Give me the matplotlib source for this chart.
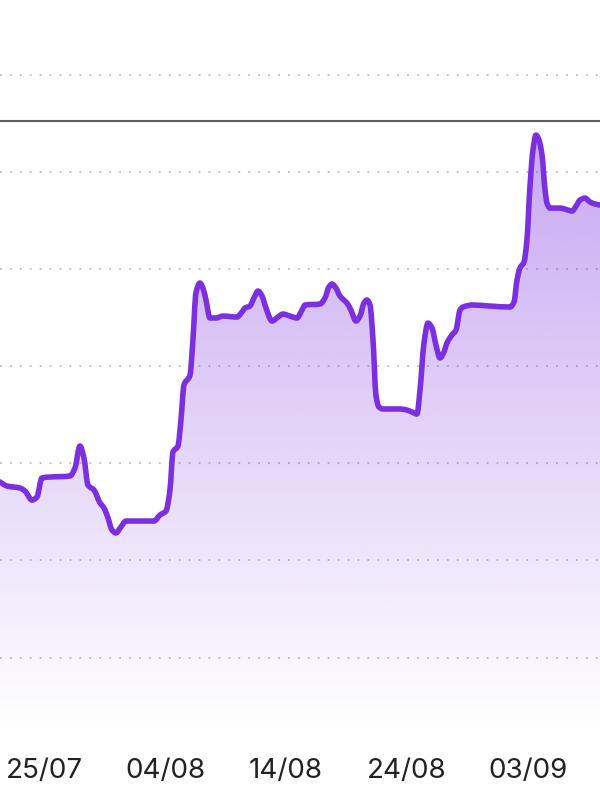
import numpy as np
import matplotlib
matplotlib.use("Agg")
import matplotlib.pyplot as plt
from matplotlib.colors import to_rgb
from matplotlib.path import Path
from matplotlib.patches import PathPatch

# days relative to 25/07
days = [-3.69, -3.11, -2.04, -1.62, -1.04, -0.63, -0.22, 0.45, 2.10, 2.52,
        2.93, 3.26, 3.59, 4.09, 4.59, 4.92, 5.25, 5.58, 5.91, 6.32,
        6.74, 7.90, 9.06, 9.55, 10.05, 10.38, 10.63, 11.04, 11.29, 11.54,
        12.04, 12.28, 12.53, 12.86, 13.11, 13.36, 13.69, 14.18, 14.77, 15.93,
        16.34, 16.59, 17.00, 17.33, 17.67, 18.00, 18.33, 18.82, 19.32, 19.74,
        20.31, 20.89, 21.31, 21.56, 22.80, 23.21, 23.54, 23.79, 24.12, 24.45,
        24.78, 25.03, 25.36, 25.78, 26.11, 26.44, 26.69, 26.94, 27.19, 27.43,
        27.68, 28.01, 29.42, 30.00, 30.41, 30.83, 31.08, 31.41, 31.74, 32.07,
        32.40, 32.73, 33.06, 33.31, 33.72, 34.06, 34.39, 34.64, 35.46, 36.87,
        38.53, 38.86, 39.11, 39.36, 39.69, 39.93, 40.18, 40.43, 40.68, 40.93,
        41.18, 41.43, 41.59, 41.84, 42.67, 43.33, 43.66, 44.00, 44.33, 44.74,
        45.16, 45.57, 45.98]
values = [18.08, 17.66, 17.46, 17.15, 16.22, 16.53, 18.49, 18.59, 18.69, 19.52,
          21.78, 20.55, 17.77, 17.25, 15.92, 15.40, 14.37, 13.14, 12.83, 13.45,
          14.06, 14.06, 14.06, 14.68, 15.09, 17.25, 21.16, 21.78, 24.46, 28.06,
          29.08, 32.69, 37.52, 38.55, 38.03, 36.80, 34.95, 34.95, 35.15, 35.05,
          35.57, 35.98, 36.18, 37.01, 37.73, 37.21, 35.98, 34.64, 35.05, 35.36,
          35.15, 34.95, 35.77, 36.29, 36.39, 37.01, 38.14, 38.45, 38.03, 37.21,
          36.80, 36.49, 35.77, 34.64, 35.15, 36.49, 36.80, 36.29, 32.69, 27.03,
          25.79, 25.59, 25.59, 25.48, 25.28, 25.07, 27.54, 32.38, 34.43, 33.92,
          32.17, 30.84, 31.45, 32.38, 33.20, 33.71, 35.77, 36.08, 36.29, 36.18,
          36.08, 36.59, 38.86, 40.10, 40.71, 42.98, 48.43, 52.24, 53.77, 53.26,
          51.72, 48.12, 46.78, 46.26, 46.26, 46.06, 45.95, 46.47, 47.09, 47.29,
          46.88, 46.68, 46.57]

tick_days = [0, 10, 20, 30, 40]
tick_labels = ["25/07", "04/08", "14/08", "24/08", "03/09"]
grid_values = [0, 10, 20, 30, 40, 50, 60]
reference_value = 55.22

line_color = "#7B2FE0"


def monotone_bezier(x, y):
    """Build a smooth (monotone cubic) Bezier path through the data points."""
    x = np.asarray(x, float)
    y = np.asarray(y, float)
    h = np.diff(x)
    d = np.diff(y) / h
    m = np.zeros_like(y)
    m[0], m[-1] = d[0], d[-1]
    for i in range(1, len(y) - 1):
        if d[i - 1] * d[i] <= 0:
            m[i] = 0.0
        else:
            w1 = 2 * h[i] + h[i - 1]
            w2 = h[i] + 2 * h[i - 1]
            m[i] = (w1 + w2) / (w1 / d[i - 1] + w2 / d[i])
    verts = [(x[0], y[0])]
    codes = [Path.MOVETO]
    for i in range(len(x) - 1):
        verts += [(x[i] + h[i] / 3, y[i] + m[i] * h[i] / 3),
                  (x[i + 1] - h[i] / 3, y[i + 1] - m[i + 1] * h[i] / 3),
                  (x[i + 1], y[i + 1])]
        codes += [Path.CURVE4] * 3
    return verts, codes


fig = plt.figure(figsize=(6, 8), dpi=100)
ax = fig.add_axes([0, 70 / 800, 1, 730 / 800])
xmin, xmax = -3.69, 45.98
ymin, ymax = -7.44, 67.67
ax.set_xlim(xmin, xmax)
ax.set_ylim(ymin, ymax)

for g in grid_values:
    ax.axhline(g, color="#bdbdbd", lw=1.3, linestyle=(0, (1, 4.5)), zorder=1)
ax.axhline(reference_value, color="#5c5c5c", lw=1.5, zorder=2)

verts, codes = monotone_bezier(days, values)
line_path = Path(verts, codes)

fill_verts = verts + [(days[-1], ymin), (days[0], ymin), (days[0], values[0])]
fill_codes = codes + [Path.LINETO, Path.LINETO, Path.CLOSEPOLY]
fill_path = Path(fill_verts, fill_codes)

rgb = np.array(to_rgb(line_color))
top_val = max(values)
n = 256
img = np.zeros((n, 1, 4))
img[..., :3] = rgb
img[..., 3] = np.linspace(0.42, 0.0, n)[:, None]
im = ax.imshow(img, extent=[xmin, xmax, ymin, top_val], aspect="auto",
               origin="upper", zorder=2, interpolation="bilinear")
im.set_clip_path(fill_path, transform=ax.transData)

ax.add_patch(PathPatch(line_path, facecolor="none", edgecolor=line_color,
                       lw=4.0, joinstyle="round", capstyle="round", zorder=3))
ax.set_xlim(xmin, xmax)
ax.set_ylim(ymin, ymax)

ax.set_xticks(tick_days)
ax.set_xticklabels(tick_labels, fontsize=20, color="#222222",
                   family=["Inter", "DejaVu Sans"])
ax.tick_params(axis="x", length=0, pad=20)
ax.set_yticks([])
for s in ax.spines.values():
    s.set_visible(False)

fig.savefig("out.png", dpi=100)
